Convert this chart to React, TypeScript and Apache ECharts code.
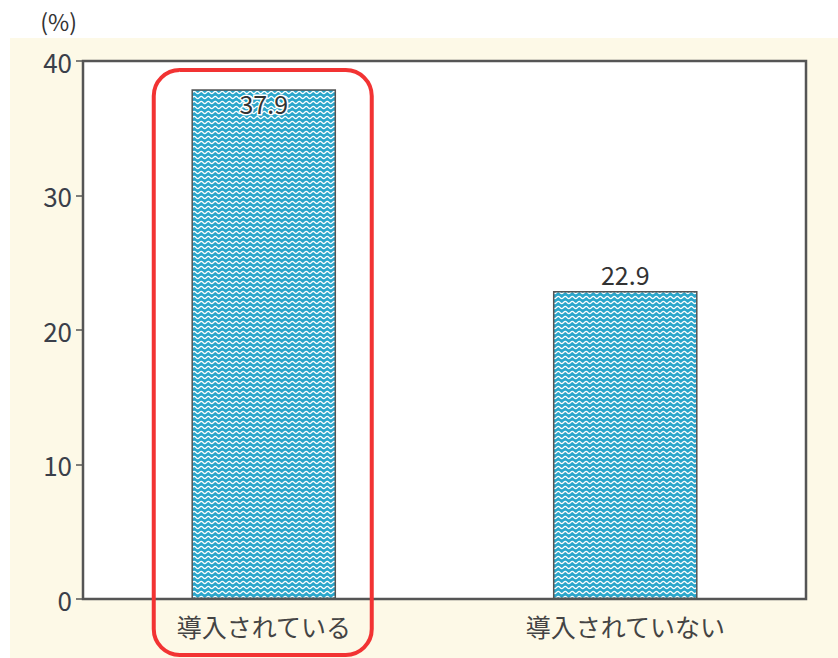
import React, { useEffect, useRef } from "react";
import * as echarts from "echarts";

const categories = ["導入されている", "導入されていない"];
const values = [37.9, 22.9];
const yTicks = { min: 0, max: 40, interval: 10 };
const unitLabel = "(%)";

function makePattern() {
  const s = 4;
  const w = 7, h = 5;
  const c = document.createElement("canvas");
  c.width = w * s;
  c.height = h * s;
  const ctx = c.getContext("2d")!;
  ctx.fillStyle = "#2aa6cb";
  ctx.fillRect(0, 0, c.width, c.height);
  ctx.strokeStyle = "#ffffff";
  ctx.lineWidth = 1.3 * s;
  ctx.beginPath();
  for (let i = -2; i <= w * s + 2; i++) {
    const x = i;
    const y = (2.5 + 1.1 * Math.sin((2 * Math.PI * x) / (w * s))) * s;
    if (i === -2) ctx.moveTo(x, y);
    else ctx.lineTo(x, y);
  }
  ctx.stroke();
  return { image: c, repeat: "repeat", imageWidth: w, imageHeight: h } as any;
}

export default function App() {
  const ref = useRef<HTMLDivElement>(null);
  useEffect(() => {
    if (!ref.current) return;
    const chart = echarts.init(ref.current, null, { renderer: "svg" });
    const pattern = makePattern();
    const font = "'Noto Sans CJK JP', 'Noto Sans', sans-serif";
    chart.setOption({
      animation: false,
      textStyle: { fontFamily: font },
      grid: {
        left: 83,
        right: 32,
        top: 61,
        bottom: 59,
        show: true,
        backgroundColor: "#ffffff",
        borderColor: "#555555",
        borderWidth: 2.5,
        z: 1,
      },
      xAxis: {
        type: "category",
        data: categories,
        axisLine: { show: false },
        axisTick: { show: false },
        axisLabel: { fontSize: 25, color: "#444", margin: 14, fontFamily: font },
      },
      yAxis: {
        type: "value",
        min: yTicks.min,
        max: yTicks.max,
        interval: yTicks.interval,
        name: unitLabel,
        nameLocation: "end",
        nameGap: 40,
        nameTextStyle: { fontSize: 23, color: "#333", align: "right", verticalAlign: "middle", padding: [0, 6, 0, 0], fontFamily: font },
        axisLine: { show: false },
        axisTick: { show: true, inside: false, length: 7, lineStyle: { color: "#555", width: 1.5 } },
        axisLabel: { fontSize: 26, color: "#3a3f4a", margin: 11, fontFamily: font },
        splitLine: { show: false },
      },
      series: [
        {
          type: "bar",
          barWidth: "40%",
          z: 3,
          itemStyle: { color: pattern, borderColor: "#555", borderWidth: 1.5 },
          data: values.map((v, i) => ({
            value: v,
            label:
              i === 0
                ? { show: true, position: "insideTop", distance: 1, fontSize: 25, color: "#333", textBorderColor: "#fff", textBorderWidth: 3, fontFamily: font }
                : { show: true, position: "top", distance: 4, fontSize: 25, color: "#333", fontFamily: font },
          })),
        },
      ],
    });
    const cx = chart.convertToPixel({ xAxisIndex: 0 }, categories[0]) as number;
    const yTop = chart.convertToPixel({ yAxisIndex: 0 }, yTicks.max) as number;
    chart.setOption({
      graphic: [
        {
          type: "rect",
          z: -10,
          silent: true,
          shape: { x: 10, y: 38, width: 840, height: 640 },
          style: { fill: "#fdf9e7" },
        },
        {
          type: "rect",
          z: 100,
          silent: true,
          shape: { x: cx - 110, y: yTop + 9, width: 218, height: 585, r: 26 },
          style: { fill: "none", stroke: "#f23333", lineWidth: 4 },
        },
      ],
    });
    return () => chart.dispose();
  }, []);
  return (
    <div
      ref={ref}
      style={{ position: "fixed", left: 0, top: 0, width: 838, height: 658, background: "#ffffff" }}
    />
  );
}
